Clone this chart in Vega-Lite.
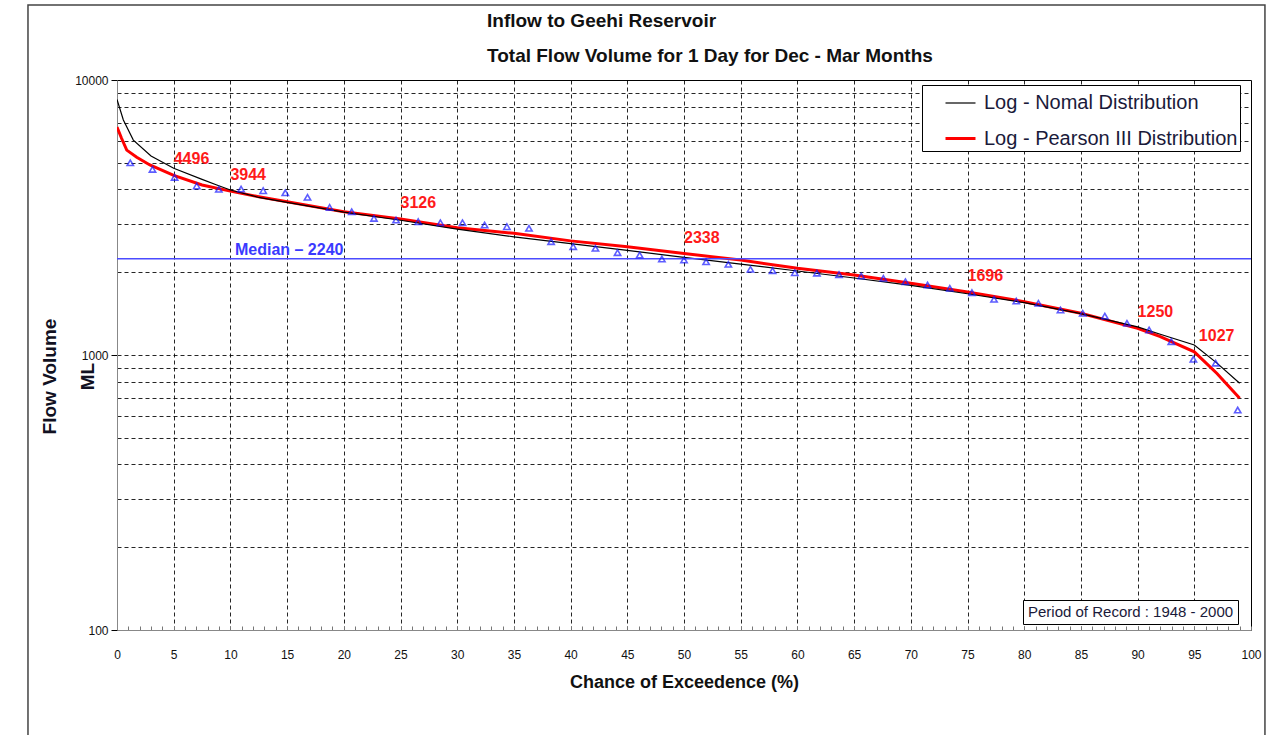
{
  "$schema": "https://vega.github.io/schema/vega-lite/v6.json",
  "width": 1134,
  "height": 550,
  "autosize": {"type": "none"},
  "padding": {"left": 117, "top": 80, "right": 22, "bottom": 105},
  "background": "white",
  "title": {
    "text": ["Inflow to Geehi Reservoir", "Total Flow Volume for 1 Day for Dec - Mar Months"],
    "anchor": "start",
    "frame": "group",
    "dx": 370,
    "font": "Liberation Sans",
    "fontSize": 19,
    "fontWeight": "bold",
    "lineHeight": 35,
    "offset": -62,
    "color": "#111111"
  },
  "config": {
    "view": {"stroke": "black", "strokeWidth": 1},
    "font": "Liberation Sans",
    "axis": {"labelFont": "Liberation Sans", "titleFont": "Liberation Sans"}
  },
  "datasets": {
    "curves": [
      {"series": "Log - Pearson III Distribution", "x": 0, "y": 6745},
      {"series": "Log - Pearson III Distribution", "x": 0.4, "y": 6140},
      {"series": "Log - Pearson III Distribution", "x": 0.86, "y": 5560},
      {"series": "Log - Pearson III Distribution", "x": 1.74, "y": 5240},
      {"series": "Log - Pearson III Distribution", "x": 2.9, "y": 4910},
      {"series": "Log - Pearson III Distribution", "x": 5, "y": 4496},
      {"series": "Log - Pearson III Distribution", "x": 7.5, "y": 4150},
      {"series": "Log - Pearson III Distribution", "x": 10, "y": 3944},
      {"series": "Log - Pearson III Distribution", "x": 12.5, "y": 3764},
      {"series": "Log - Pearson III Distribution", "x": 15, "y": 3610},
      {"series": "Log - Pearson III Distribution", "x": 20, "y": 3319},
      {"series": "Log - Pearson III Distribution", "x": 25, "y": 3126},
      {"series": "Log - Pearson III Distribution", "x": 30, "y": 2900},
      {"series": "Log - Pearson III Distribution", "x": 35, "y": 2770},
      {"series": "Log - Pearson III Distribution", "x": 40, "y": 2600},
      {"series": "Log - Pearson III Distribution", "x": 45, "y": 2477},
      {"series": "Log - Pearson III Distribution", "x": 50, "y": 2338},
      {"series": "Log - Pearson III Distribution", "x": 55, "y": 2215},
      {"series": "Log - Pearson III Distribution", "x": 60, "y": 2066},
      {"series": "Log - Pearson III Distribution", "x": 65, "y": 1954},
      {"series": "Log - Pearson III Distribution", "x": 70, "y": 1822},
      {"series": "Log - Pearson III Distribution", "x": 75, "y": 1696},
      {"series": "Log - Pearson III Distribution", "x": 80, "y": 1563},
      {"series": "Log - Pearson III Distribution", "x": 85, "y": 1418},
      {"series": "Log - Pearson III Distribution", "x": 90, "y": 1250},
      {"series": "Log - Pearson III Distribution", "x": 92, "y": 1166},
      {"series": "Log - Pearson III Distribution", "x": 95, "y": 1027},
      {"series": "Log - Pearson III Distribution", "x": 97, "y": 857},
      {"series": "Log - Pearson III Distribution", "x": 99, "y": 696},
      {"series": "Log - Nomal Distribution", "x": 0, "y": 8500},
      {"series": "Log - Nomal Distribution", "x": 0.56, "y": 7155},
      {"series": "Log - Nomal Distribution", "x": 1.44, "y": 6045},
      {"series": "Log - Nomal Distribution", "x": 3, "y": 5290},
      {"series": "Log - Nomal Distribution", "x": 5, "y": 4776},
      {"series": "Log - Nomal Distribution", "x": 7.5, "y": 4350},
      {"series": "Log - Nomal Distribution", "x": 8.8, "y": 4150},
      {"series": "Log - Nomal Distribution", "x": 10, "y": 3981},
      {"series": "Log - Nomal Distribution", "x": 12.5, "y": 3740},
      {"series": "Log - Nomal Distribution", "x": 15, "y": 3590},
      {"series": "Log - Nomal Distribution", "x": 20, "y": 3310},
      {"series": "Log - Nomal Distribution", "x": 25, "y": 3090},
      {"series": "Log - Nomal Distribution", "x": 30, "y": 2870},
      {"series": "Log - Nomal Distribution", "x": 35, "y": 2690},
      {"series": "Log - Nomal Distribution", "x": 40, "y": 2540},
      {"series": "Log - Nomal Distribution", "x": 45, "y": 2400},
      {"series": "Log - Nomal Distribution", "x": 50, "y": 2265},
      {"series": "Log - Nomal Distribution", "x": 55, "y": 2140},
      {"series": "Log - Nomal Distribution", "x": 60, "y": 2020},
      {"series": "Log - Nomal Distribution", "x": 65, "y": 1905},
      {"series": "Log - Nomal Distribution", "x": 70, "y": 1790},
      {"series": "Log - Nomal Distribution", "x": 75, "y": 1670},
      {"series": "Log - Nomal Distribution", "x": 80, "y": 1550},
      {"series": "Log - Nomal Distribution", "x": 85, "y": 1415},
      {"series": "Log - Nomal Distribution", "x": 90, "y": 1265},
      {"series": "Log - Nomal Distribution", "x": 92, "y": 1190},
      {"series": "Log - Nomal Distribution", "x": 95, "y": 1087},
      {"series": "Log - Nomal Distribution", "x": 97, "y": 934},
      {"series": "Log - Nomal Distribution", "x": 99, "y": 789}
    ],
    "points": [
      {"x": 1.17, "y": 5000}, {"x": 3.13, "y": 4730}, {"x": 5.08, "y": 4425}, {"x": 7.03, "y": 4118},
      {"x": 8.98, "y": 4005}, {"x": 10.94, "y": 4014}, {"x": 12.89, "y": 3958}, {"x": 14.84, "y": 3890},
      {"x": 16.8, "y": 3746}, {"x": 18.75, "y": 3443}, {"x": 20.7, "y": 3319}, {"x": 22.66, "y": 3140},
      {"x": 24.61, "y": 3097}, {"x": 26.56, "y": 3053}, {"x": 28.52, "y": 3027}, {"x": 30.47, "y": 3027},
      {"x": 32.42, "y": 2970}, {"x": 34.38, "y": 2928}, {"x": 36.33, "y": 2889}, {"x": 38.28, "y": 2583},
      {"x": 40.23, "y": 2477}, {"x": 42.19, "y": 2444}, {"x": 44.14, "y": 2356}, {"x": 46.09, "y": 2310},
      {"x": 48.05, "y": 2234}, {"x": 50.0, "y": 2215}, {"x": 51.95, "y": 2183}, {"x": 53.91, "y": 2137},
      {"x": 55.86, "y": 2049}, {"x": 57.81, "y": 2026}, {"x": 59.77, "y": 1992}, {"x": 61.72, "y": 1985},
      {"x": 63.67, "y": 1960}, {"x": 65.63, "y": 1938}, {"x": 67.58, "y": 1901}, {"x": 69.53, "y": 1847},
      {"x": 71.48, "y": 1797}, {"x": 73.44, "y": 1748}, {"x": 75.39, "y": 1685}, {"x": 77.34, "y": 1594},
      {"x": 79.3, "y": 1571}, {"x": 81.25, "y": 1542}, {"x": 83.2, "y": 1458}, {"x": 85.16, "y": 1418},
      {"x": 87.11, "y": 1386}, {"x": 89.06, "y": 1304}, {"x": 91.02, "y": 1233}, {"x": 92.97, "y": 1118},
      {"x": 94.92, "y": 965}, {"x": 96.88, "y": 934}, {"x": 98.83, "y": 631}
    ],
    "labels": [
      {"x": 5, "y": 4496}, {"x": 10, "y": 3944}, {"x": 25, "y": 3126}, {"x": 50, "y": 2338},
      {"x": 75, "y": 1696}, {"x": 90, "y": 1250}, {"x": 95.4, "y": 1027}
    ],
    "median": [{"x": 10.4, "y": 2240, "label": "Median – 2240"}]
  },
  "layer": [
    {
      "data": {"name": "curves"},
      "mark": {"type": "line", "clip": true},
      "encoding": {
        "x": {
          "field": "x", "type": "quantitative",
          "scale": {"domain": [0, 100], "nice": false, "zero": false},
          "axis": {
            "values": [0,1,2,3,4,5,6,7,8,9,10,11,12,13,14,15,16,17,18,19,20,21,22,23,24,25,26,27,28,29,30,31,32,33,34,35,36,37,38,39,40,41,42,43,44,45,46,47,48,49,50,51,52,53,54,55,56,57,58,59,60,61,62,63,64,65,66,67,68,69,70,71,72,73,74,75,76,77,78,79,80,81,82,83,84,85,86,87,88,89,90,91,92,93,94,95,96,97,98,99,100],
            "tickCount": 300,
            "format": "d",
            "labelExpr": "datum.value % 5 === 0 ? datum.label : ''",
            "labelOverlap": false,
            "labelFlush": false,
            "labelFontSize": 12,
            "labelColor": "#111111",
            "labelPadding": 23,
            "grid": true,
            "gridColor": {"condition": {"test": "datum.value % 5 === 0 && datum.value > 0 && datum.value < 100", "value": "black"}, "value": "transparent"},
            "gridDash": [4, 3],
            "gridOpacity": 0.85,
            "tickSize": -4,
            "tickColor": "#777777",
            "domainColor": "#888888",
            "title": "Chance of Exceedence (%)",
            "titleFontSize": 18,
            "titleFontWeight": "bold",
            "titleColor": "#111111",
            "titlePadding": 13
          }
        },
        "y": {
          "field": "y", "type": "quantitative",
          "scale": {"type": "log", "domain": [100, 10000], "nice": false},
          "axis": {
            "values": [100,200,300,400,500,600,700,800,900,1000,2000,3000,4000,5000,6000,7000,8000,9000,10000],
            "tickCount": 300,
            "format": "d",
            "labelExpr": "indexof([100,1000,10000], datum.value) >= 0 ? datum.label : ''",
            "labelOverlap": false,
            "labelFontSize": 12,
            "labelColor": "#111111",
            "labelPadding": 3,
            "grid": true,
            "gridColor": "black",
            "gridDash": [4, 3],
            "gridOpacity": 0.85,
            "tickSize": 6,
            "tickColor": "black",
            "tickOpacity": {"condition": {"test": "indexof([100,1000,10000], datum.value) >= 0", "value": 1}, "value": 0},
            "domainColor": "#888888",
            "title": ["Flow Volume", "ML"],
            "titleFontSize": 19,
            "titleFontWeight": "bold",
            "titleColor": "#111122",
            "titleLineHeight": 38,
            "titleX": -58,
            "titleY": 296
          }
        },
        "color": {
          "field": "series", "type": "nominal",
          "scale": {"domain": ["Log - Nomal Distribution", "Log - Pearson III Distribution"], "range": ["black", "#ff0000"]},
          "legend": {
            "orient": "none", "legendX": 805, "legendY": 5, "title": null,
            "strokeColor": "black", "fillColor": "white", "padding": 2,
            "symbolType": "stroke", "symbolSize": 900, "symbolStrokeWidth": 2, "symbolOffset": 20,
            "labelFontSize": 20, "labelColor": "#1a1a3a", "labelOffset": 7, "labelLimit": 400,
            "rowPadding": 9
          }
        },
        "strokeWidth": {
          "field": "series", "type": "nominal",
          "scale": {"domain": ["Log - Nomal Distribution", "Log - Pearson III Distribution"], "range": [1.2, 3]},
          "legend": {
            "orient": "none", "legendX": 805, "legendY": 5, "title": null,
            "strokeColor": "black", "fillColor": "white", "padding": 2,
            "symbolType": "stroke", "symbolSize": 900, "symbolOffset": 20,
            "labelFontSize": 20, "labelColor": "#1a1a3a", "labelOffset": 7, "labelLimit": 400,
            "rowPadding": 9
          }
        }
      }
    },
    {
      "data": {"values": [{}]},
      "mark": {"type": "rect", "fill": "transparent", "stroke": "#444444", "strokeWidth": 1.5, "clip": false},
      "encoding": {
        "x": {"datum": -7.85},
        "x2": {"datum": 101.23},
        "y": {"datum": 18740},
        "y2": {"datum": 36}
      }
    },
    {
      "data": {"name": "median"},
      "mark": {"type": "rule", "color": "#4b4bff", "strokeWidth": 1.5},
      "encoding": {"y": {"field": "y", "type": "quantitative"}}
    },
    {
      "data": {"name": "median"},
      "mark": {"type": "text", "align": "left", "baseline": "bottom", "dy": -1, "fontSize": 16, "fontWeight": "bold", "color": "#3a3aff"},
      "encoding": {
        "x": {"field": "x", "type": "quantitative"},
        "y": {"field": "y", "type": "quantitative"},
        "text": {"field": "label"}
      }
    },
    {
      "data": {"name": "points"},
      "mark": {"type": "point", "filled": false, "color": "#1a1aff", "strokeWidth": 1.6, "size": 40},
      "encoding": {
        "x": {"field": "x", "type": "quantitative"},
        "y": {"field": "y", "type": "quantitative"},
        "shape": {
          "datum": "Period of Record : 1948 - 2000",
          "scale": {"range": ["triangle-up"]},
          "legend": {
            "orient": "none", "legendX": 906, "legendY": 520, "title": null,
            "symbolOpacity": 0, "symbolSize": 1, "symbolStrokeWidth": 0, "symbolOffset": 0,
            "labelFontSize": 15, "labelOffset": -14, "labelColor": "#1a1a3a", "labelLimit": 400,
            "strokeColor": "black", "fillColor": "white", "padding": 4
          }
        }
      }
    },
    {
      "data": {"name": "labels"},
      "mark": {"type": "text", "align": "left", "baseline": "bottom", "dy": -8, "fontSize": 16, "fontWeight": "bold", "color": "#ff1a1a"},
      "encoding": {
        "x": {"field": "x", "type": "quantitative"},
        "y": {"field": "y", "type": "quantitative"},
        "text": {"field": "y", "type": "quantitative", "format": "d"}
      }
    }
  ]
}
